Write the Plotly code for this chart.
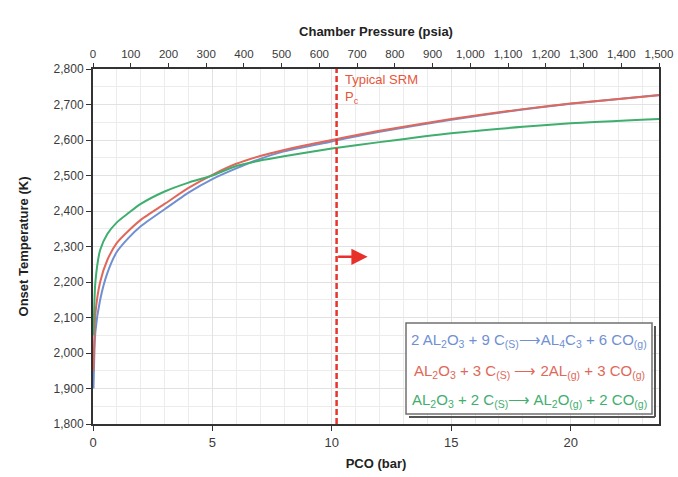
import plotly.graph_objects as go

# ---- data ----
pco_bar = [0.02, 0.1, 0.3, 0.6, 1, 1.5, 2, 3, 4, 5, 6, 7, 8, 10, 12, 15, 18, 20, 23.7]
temp_al4c3 = [1900, 2060, 2150, 2225, 2285, 2325, 2357, 2405, 2452, 2490, 2520, 2547, 2568, 2596, 2623, 2657, 2686, 2702, 2727]
temp_al_g = [1950, 2110, 2200, 2262, 2310, 2345, 2375, 2420, 2465, 2502, 2533, 2555, 2572, 2600, 2626, 2659, 2687, 2703, 2726]
temp_al2o_g = [2050, 2200, 2290, 2335, 2368, 2395, 2420, 2455, 2480, 2500, 2527, 2542, 2554, 2576, 2594, 2619, 2637, 2647, 2659]

series_names = [
    "2 AL<sub>2</sub>O<sub>3</sub> + 9 C<sub>(S)</sub>⟶AL<sub>4</sub>C<sub>3</sub> + 6 CO<sub>(g)</sub>",
    "AL<sub>2</sub>O<sub>3</sub> + 3 C<sub>(S)</sub> ⟶ 2AL<sub>(g)</sub> + 3 CO<sub>(g)</sub>",
    "AL<sub>2</sub>O<sub>3</sub> + 2 C<sub>(S)</sub>⟶ AL<sub>2</sub>O<sub>(g)</sub> + 2 CO<sub>(g)</sub>",
]
colors = ["#7090d2", "#e0685a", "#3fae6e"]

psia_ticks = list(range(0, 1501, 100))
psia_labels = [f"{v:,}" for v in psia_ticks]
typical_pc_bar = 10.2
arrow_end_bar = 11.5
arrow_temp = 2271

x_max_bar = 23.7
font_family = "Liberation Sans, Arial, sans-serif"

W, H = 678, 477
L, R, T, B = 93, 19, 69, 53

fig = go.Figure()
for vals, name, col in zip([temp_al4c3, temp_al_g, temp_al2o_g], series_names, colors):
    fig.add_trace(go.Scatter(x=pco_bar, y=vals, mode="lines", name=name,
                             line=dict(color=col, width=2, shape="spline", smoothing=0.6),
                             showlegend=False))

# dummy trace for top axis
fig.add_trace(go.Scatter(x=[0, 1500], y=[None, None], xaxis="x2", showlegend=False, hoverinfo="skip"))

# dashed vertical line
fig.add_shape(type="line", x0=typical_pc_bar, x1=typical_pc_bar, y0=1800, y1=2800,
              xref="x", yref="y", line=dict(color="#e8342c", width=2.5, dash="6px,3px"))

fig.add_annotation(x=typical_pc_bar + 0.25, y=2796, xref="x", yref="y",
                   text="Typical SRM<br>P<sub>c</sub>", showarrow=False,
                   xanchor="left", yanchor="top", align="left",
                   font=dict(family=font_family, size=13, color="#e8553a"))

fig.add_annotation(x=arrow_end_bar, y=arrow_temp, ax=typical_pc_bar, ay=arrow_temp,
                   xref="x", yref="y", axref="x", ayref="y", text="",
                   showarrow=True, arrowhead=2, arrowsize=1.3, arrowwidth=2.5,
                   arrowcolor="#e8302a")

# legend box (paper coords relative to plot area: 566 x 355 px)
PW, PH = 566, 355
fig.add_shape(type="rect", xref="paper", yref="paper",
              x0=(406 - 93) / PW, x1=(652 - 93) / PW,
              y0=(424 - 414) / PH, y1=(424 - 323) / PH,
              line=dict(color="#707070", width=1.5), fillcolor="white")
fig.add_shape(type="line", xref="paper", yref="paper",
              x0=(655 - 93) / PW, x1=(655 - 93) / PW,
              y0=(424 - 417) / PH, y1=(424 - 326) / PH,
              line=dict(color="#555555", width=2))
fig.add_shape(type="line", xref="paper", yref="paper",
              x0=(409 - 93) / PW, x1=(655 - 93) / PW,
              y0=(424 - 417) / PH, y1=(424 - 417) / PH,
              line=dict(color="#555555", width=2))
legend_y = [340, 371, 400]
for name, col, py in zip(series_names, colors, legend_y):
    fig.add_annotation(xref="paper", yref="paper", x=(529 - 93) / PW, y=(424 - py) / PH,
                       text=name, showarrow=False, xanchor="center", yanchor="middle",
                       font=dict(family=font_family, size=15, color=col))

axis_line = dict(showline=True, linecolor="#333333", linewidth=2)
fig.update_layout(
    width=W, height=H,
    margin=dict(l=L, r=R, t=T, b=B),
    paper_bgcolor="white", plot_bgcolor="white",
    font=dict(family=font_family, size=12, color="#3a3a3a"),
    xaxis=dict(range=[0, x_max_bar], dtick=5, tick0=0, **axis_line, mirror=True,
               ticks="outside", ticklen=5, tickcolor="#333333", automargin=False,
               tickfont=dict(size=13),
               showgrid=True, gridcolor="#e2e2e2", gridwidth=1,
               minor=dict(dtick=1, showgrid=True, gridcolor="#ececec", ticks=""),
               zeroline=False,
               title=dict(text="<b>PCO (bar)</b>", font=dict(size=13, color="#222222"), standoff=10)),
    xaxis2=dict(range=[0, 1500], overlaying="x", side="top", tickvals=psia_ticks,
                ticktext=psia_labels, ticks="outside", ticklen=5, tickcolor="#333333",
                tickfont=dict(size=11.5),
                showgrid=False, zeroline=False, showline=False, automargin=False,
                title=dict(text="<b>Chamber Pressure (psia)</b>", font=dict(size=13, color="#222222"), standoff=8)),
    yaxis=dict(range=[1800, 2800], dtick=100, **axis_line, mirror=True,
               ticks="outside", ticklen=5, tickcolor="#333333", tickformat=",d",
               showgrid=True, gridcolor="#e2e2e2", gridwidth=1, automargin=False,
               minor=dict(dtick=50, showgrid=True, gridcolor="#ececec", ticks=""),
               zeroline=False,
               title=dict(text="<b>Onset Temperature (K)</b>", font=dict(size=13, color="#222222"), standoff=22)),
)

fig.write_html("out.html", config={"displayModeBar": False},
               post_script="document.body.style.margin='0';document.body.style.overflow='hidden';")
